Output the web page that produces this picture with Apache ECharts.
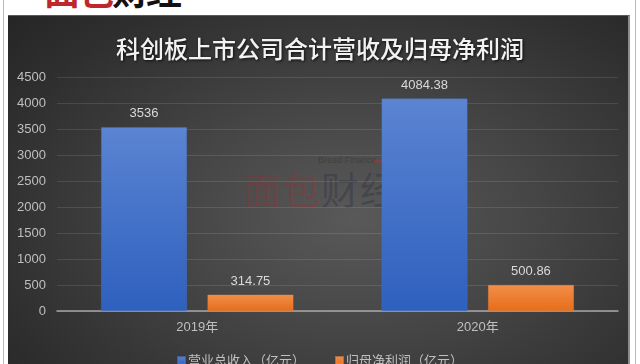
<!DOCTYPE html>
<html><head><meta charset="utf-8">
<script src="https://cdn.jsdelivr.net/npm/echarts@6/dist/echarts.min.js"></script>
<style>
html,body{margin:0;padding:0;background:#fff;width:640px;height:364px;overflow:hidden;position:relative;}
#pl{position:absolute;left:3px;top:0;width:1px;height:364px;background:#e9a4a4;}
#pr{position:absolute;left:635px;top:0;width:1px;height:364px;background:#e9a4a4;}
#bg{position:absolute;left:8px;top:15px;width:622px;height:349px;border-right:2px solid #8c8c8c;border-top:1px solid #5a5a5a;box-sizing:border-box;
background:radial-gradient(ellipse 75% 85% at 56% 58%, #595959 0%, #454545 40%, #2f2f2f 80%, #262626 100%);}
#logo{position:absolute;left:44px;top:-37px;font:bold 36px "Noto Sans CJK SC";letter-spacing:-2px;white-space:nowrap;}
#wm{position:absolute;left:243px;top:155px;white-space:nowrap;}
#wm .en{position:absolute;left:75px;top:0;font:9px "Liberation Sans";color:rgba(20,20,20,0.28);}
#wm .ln{position:absolute;left:130px;top:5px;width:22px;height:3px;background:rgba(190,50,60,0.35);}
#wm .cn{position:absolute;left:0;top:5px;font:38px "Noto Sans CJK SC";letter-spacing:1px;}
#c{position:absolute;left:0;top:0;width:640px;height:364px;}
</style></head>
<body>
<div id="pl"></div><div id="pr"></div>
<div id="logo"><span style="color:#c0272d">面包</span><span style="color:#111">财经</span></div>
<div id="bg"></div>
<div id="wm"><div class="en">Bread Finance</div><div class="ln"></div><div class="cn"><span style="color:rgba(170,40,45,0.28)">面包</span><span style="color:rgba(30,35,60,0.28)">财经</span></div></div>
<div id="c"></div>
<script>
var title = '科创板上市公司合计营收及归母净利润';
var categories = ['2019年', '2020年'];
var seriesNames = ['营业总收入（亿元）', '归母净利润（亿元）'];
var revenue = [3536, 4084.38];
var netProfit = [314.75, 500.86];
var yMin = 0, yMax = 4500, yStep = 500;

var chart = echarts.init(document.getElementById('c'), null, {renderer: 'canvas'});
var font = '"Liberation Sans", "Noto Sans CJK SC", sans-serif';
function grad(a, b) {
  return new echarts.graphic.LinearGradient(0, 0, 0, 1, [{offset: 0, color: a}, {offset: 1, color: b}]);
}
chart.setOption({
  backgroundColor: 'transparent',
  animation: false,
  title: {
    text: title, left: 'center', top: 32,
    textStyle: {color: '#f2f2f2', fontSize: 24, fontWeight: 500, fontFamily: '"Noto Sans CJK SC", sans-serif',
      textShadowColor: 'rgba(0,0,0,0.8)', textShadowBlur: 3, textShadowOffsetX: 1, textShadowOffsetY: 1}
  },
  legend: {
    data: seriesNames, top: 349, left: 'center', itemWidth: 7, itemHeight: 7, itemGap: 30, icon: 'rect',
    textStyle: {color: '#bfbfbf', fontSize: 13, fontFamily: '"Noto Sans CJK SC", sans-serif', padding: [0, 0, 0, -2]}
  },
  grid: {left: 57, right: 22, top: 77, bottom: 53},
  xAxis: {
    type: 'category', data: categories,
    axisLine: {lineStyle: {color: '#a6a6a6', width: 1.5}},
    axisTick: {show: false},
    axisLabel: {color: '#bfbfbf', fontSize: 13, margin: 10, fontFamily: font}
  },
  yAxis: {
    type: 'value', min: yMin, max: yMax, interval: yStep,
    axisLine: {show: false}, axisTick: {show: false},
    axisLabel: {color: '#bfbfbf', fontSize: 13, margin: 11, fontFamily: font, formatter: function (v) { return String(v); }},
    splitLine: {lineStyle: {color: 'rgba(255,255,255,0.11)', width: 1}}
  },
  series: [
    {name: seriesNames[0], type: 'bar', data: revenue, barWidth: '30.6%', barGap: '24%',
     itemStyle: {color: grad('#5b84d2', '#2e60be'), borderColor: 'rgba(80,120,200,0.6)', borderWidth: 0.5},
     label: {show: true, position: 'top', distance: 7, color: '#d9d9d9', fontSize: 13, fontFamily: font}},
    {name: seriesNames[1], type: 'bar', data: netProfit, barWidth: '30.6%',
     itemStyle: {color: grad('#f28e48', '#e66d1a'), borderColor: 'rgba(240,140,70,0.6)', borderWidth: 0.5},
     label: {show: true, position: 'top', distance: 7, color: '#d9d9d9', fontSize: 13, fontFamily: font}}
  ]
});
</script>
</body></html>
